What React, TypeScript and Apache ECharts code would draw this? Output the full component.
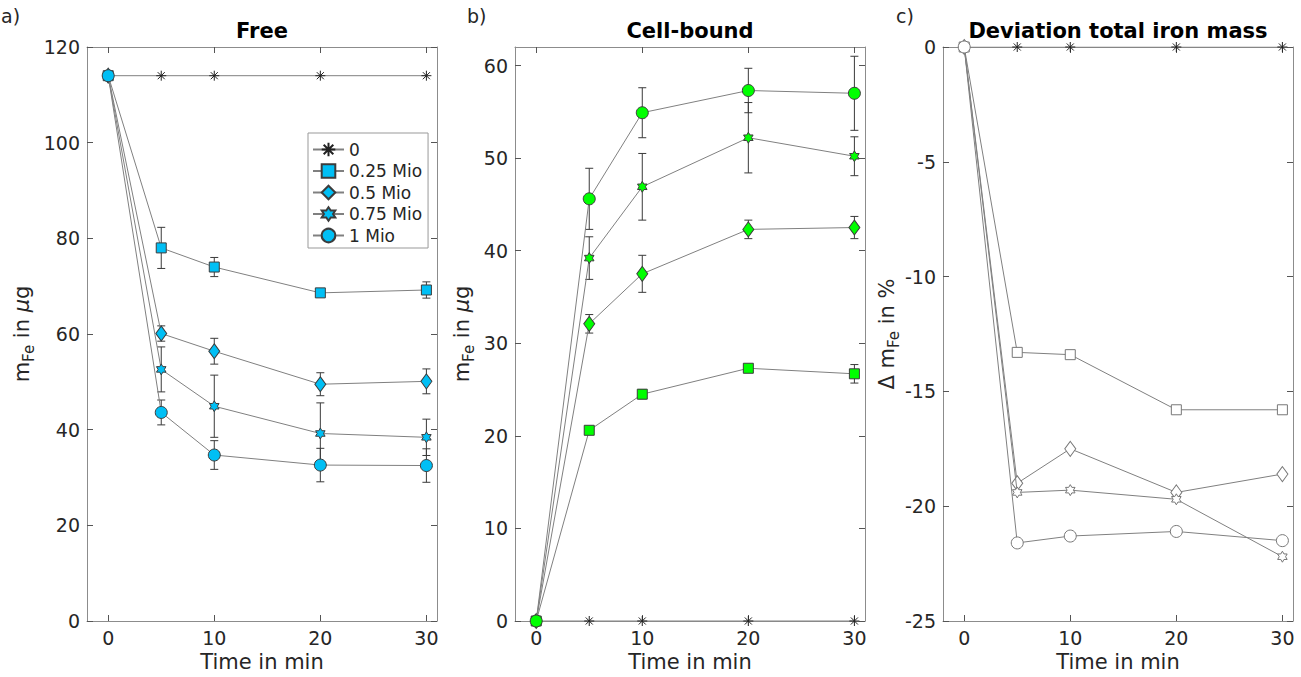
import React, { useEffect, useRef } from 'react';
import * as echarts from 'echarts';

// ---------- data ----------
const times = [0, 5, 10, 20, 30];
const seriesNames = ['0', '0.25 Mio', '0.5 Mio', '0.75 Mio', '1 Mio'];
const xTicks = [0, 10, 20, 30];
const freeYTicks = [0, 20, 40, 60, 80, 100, 120];
const cellYTicks = [0, 10, 20, 30, 40, 50, 60];
const devYTicks = [-25, -20, -15, -10, -5, 0];

// a) Free
const free0 = [114, 114, 114, 114, 114];
const free025 = [114, 78, 74, 68.6, 69.2];
const free05 = [114, 60.1, 56.4, 49.5, 50.1];
const free075 = [114, 52.6, 44.9, 39.2, 38.4];
const free1 = [114, 43.6, 34.7, 32.6, 32.5];
const free025Err = [0, 4.3, 2.0, 0.6, 1.7];
const free05Err = [0, 1.6, 2.7, 2.4, 2.6];
const free075Err = [0, 4.7, 6.5, 6.4, 3.8];
const free1Err = [0, 2.6, 3.0, 3.5, 3.5];

// b) Cell-bound
const cell0 = [0, 0, 0, 0, 0];
const cell025 = [0, 20.6, 24.5, 27.3, 26.7];
const cell05 = [0, 32.1, 37.5, 42.3, 42.5];
const cell075 = [0, 39.2, 46.9, 52.2, 50.2];
const cell1 = [0, 45.6, 54.9, 57.3, 57.0];
const cell025Err = [0, 0.3, 0.5, 0.3, 1.0];
const cell05Err = [0, 1.0, 2.0, 1.0, 1.2];
const cell075Err = [0, 2.3, 3.6, 3.8, 2.1];
const cell1Err = [0, 3.3, 2.7, 2.4, 4.0];

// c) Deviation total iron mass
const dev0 = [0, 0, 0, 0, 0];
const dev025 = [0, -13.3, -13.4, -15.8, -15.8];
const dev05 = [0, -19.0, -17.5, -19.4, -18.6];
const dev075 = [0, -19.4, -19.3, -19.7, -22.2];
const dev1 = [0, -21.6, -21.3, -21.1, -21.5];

// ---------- styles ----------
const FONT = '"DejaVu Sans", "Noto Sans", sans-serif';
const TXT = '#262626';
const AXIS = '#8c8c8c';
const TICK = '#555555';
const LINE = '#808080';
const BLUE = '#00bff5';
const GREEN = '#00ff00';
const TICK_FS = 19;
const NAME_FS = 21;

const SYM_ASTERISK = 'path://M0,-10L0,10M-10,0L10,0M-7.07,-7.07L7.07,7.07M-7.07,7.07L7.07,-7.07';
const SYM_HEX = 'path://M0,-100L28.9,-50L86.6,-50L57.7,0L86.6,50L28.9,50L0,100L-28.9,50L-86.6,50L-57.7,0L-86.6,-50L-28.9,-50Z';

const symbols: any[] = [SYM_ASTERISK, 'rect', 'diamond', SYM_HEX, 'circle'];
const symbolSizes: any[] = [10, 10, [11, 15], 11, 12];

const grids = [
  { left: 87, top: 47, width: 350, height: 574, outerBoundsMode: 'none', containLabel: false },
  { left: 515, top: 47, width: 350, height: 574, outerBoundsMode: 'none', containLabel: false },
  { left: 943, top: 47, width: 350, height: 574, outerBoundsMode: 'none', containLabel: false },
];

function lineSeries(name: string, vals: number[], panel: number, k: number, fill: string, edge: string) {
  return {
    type: 'line',
    name,
    xAxisIndex: panel * 2,
    yAxisIndex: panel * 2,
    data: times.map((t, i) => [t, vals[i]]),
    symbol: symbols[k],
    symbolSize: symbolSizes[k],
    symbolKeepAspect: true,
    showSymbol: true,
    showAllSymbol: true,
    silent: true,
    z: 3 + k,
    lineStyle: { color: LINE, width: 1 },
    itemStyle: k === 0
      ? { color: 'rgba(0,0,0,0)', borderColor: '#222222', borderWidth: 1 }
      : { color: fill, borderColor: edge, borderWidth: 1 },
    emphasis: { disabled: true },
  };
}

function errSeries(vals: number[], errs: number[], panel: number) {
  return {
    type: 'custom',
    coordinateSystem: 'cartesian2d',
    xAxisIndex: panel * 2,
    yAxisIndex: panel * 2,
    silent: true,
    z: 2,
    data: times
      .map((t, i) => [t, vals[i] - errs[i], vals[i] + errs[i]])
      .filter((_, i) => errs[i] > 0),
    encode: { x: 0, y: [1, 2] },
    renderItem: (params: any, api: any) => {
      const x = api.value(0);
      const lo = api.coord([x, api.value(1)]);
      const hi = api.coord([x, api.value(2)]);
      const hw = 4;
      const st = { stroke: '#3a3a3a', lineWidth: 1 };
      return {
        type: 'group',
        children: [
          { type: 'line', shape: { x1: lo[0], y1: lo[1], x2: hi[0], y2: hi[1] }, style: st },
          { type: 'line', shape: { x1: lo[0] - hw, y1: lo[1], x2: lo[0] + hw, y2: lo[1] }, style: st },
          { type: 'line', shape: { x1: hi[0] - hw, y1: hi[1], x2: hi[0] + hw, y2: hi[1] }, style: st },
        ],
      };
    },
  };
}

const yNameRich = {
  m: { fontSize: NAME_FS, fontFamily: FONT, color: TXT, lineHeight: 28 },
  s: { fontSize: 15, fontFamily: FONT, color: TXT, lineHeight: 15, verticalAlign: 'bottom' },
  u: { fontSize: NAME_FS, fontFamily: FONT, color: TXT, lineHeight: 28, fontStyle: 'italic' },
};

function xAxes(panel: number) {
  return [
    {
      type: 'value', gridIndex: panel, min: -2, max: 31, position: 'bottom',
      axisLine: { show: true, onZero: false, lineStyle: { color: AXIS, width: 1 } },
      axisTick: { show: true, inside: true, length: 6, customValues: xTicks, lineStyle: { color: TICK } },
      axisLabel: { show: true, customValues: xTicks, fontSize: TICK_FS, fontFamily: FONT, color: TXT, margin: 7 },
      splitLine: { show: false },
      name: 'Time in min', nameLocation: 'middle', nameGap: 29,
      nameTextStyle: { fontSize: NAME_FS, fontFamily: FONT, color: TXT },
    },
    {
      type: 'value', gridIndex: panel, min: -2, max: 31, position: 'top',
      axisLine: { show: true, onZero: false, lineStyle: { color: AXIS, width: 1 } },
      axisTick: { show: true, inside: true, length: 6, customValues: xTicks, lineStyle: { color: TICK } },
      axisLabel: { show: false },
      splitLine: { show: false },
    },
  ];
}

function yAxes(panel: number, min: number, max: number, ticks: number[], name: string, gap: number) {
  return [
    {
      type: 'value', gridIndex: panel, min, max, position: 'left',
      axisLine: { show: true, onZero: false, lineStyle: { color: AXIS, width: 1 } },
      axisTick: { show: true, inside: true, length: 6, customValues: ticks, lineStyle: { color: TICK } },
      axisLabel: { show: true, customValues: ticks, fontSize: TICK_FS, fontFamily: FONT, color: TXT, margin: 7 },
      splitLine: { show: false },
      name, nameLocation: 'middle', nameGap: gap, nameRotate: 90,
      nameTextStyle: { rich: yNameRich },
    },
    {
      type: 'value', gridIndex: panel, min, max, position: 'right',
      axisLine: { show: true, onZero: false, lineStyle: { color: AXIS, width: 1 } },
      axisTick: { show: true, inside: true, length: 6, customValues: ticks, lineStyle: { color: TICK } },
      axisLabel: { show: false },
      splitLine: { show: false },
    },
  ];
}

export default function App() {
  const ref = useRef<HTMLDivElement>(null);
  useEffect(() => {
    if (!ref.current) return;
    const chart = echarts.init(ref.current, undefined, { renderer: 'svg' });
    const massName = '{m|m}{s|Fe}{m| in }{u|μ}{m|g}';
    const devName = '{m|Δ m}{s|Fe}{m| in %}';
    const freeVals = [free0, free025, free05, free075, free1];
    const freeErrs = [null, free025Err, free05Err, free075Err, free1Err];
    const cellVals = [cell0, cell025, cell05, cell075, cell1];
    const cellErrs = [null, cell025Err, cell05Err, cell075Err, cell1Err];
    const devVals = [dev0, dev025, dev05, dev075, dev1];

    const series: any[] = [];
    freeErrs.forEach((e, k) => { if (e) series.push(errSeries(freeVals[k], e, 0)); });
    cellErrs.forEach((e, k) => { if (e) series.push(errSeries(cellVals[k], e, 1)); });
    freeVals.forEach((v, k) => series.push(lineSeries(seriesNames[k], v, 0, k, BLUE, '#3c3c3c')));
    cellVals.forEach((v, k) => series.push(lineSeries('b ' + seriesNames[k], v, 1, k, GREEN, '#3c3c3c')));
    devVals.forEach((v, k) => series.push(lineSeries('c ' + seriesNames[k], v, 2, k, '#ffffff', '#777777')));

    const option: any = {
      animation: false,
      backgroundColor: '#ffffff',
      grid: grids,
      xAxis: [...xAxes(0), ...xAxes(1), ...xAxes(2)],
      yAxis: [
        ...yAxes(0, 0, 120, freeYTicks, massName, 51),
        ...yAxes(1, 0, 62, cellYTicks, massName, 39),
        ...yAxes(2, -25, 0, devYTicks, devName, 37),
      ],
      legend: {
        data: seriesNames,
        orient: 'vertical',
        left: 308,
        top: 133,
        itemWidth: 31,
        itemHeight: 17,
        itemGap: 4.5,
        padding: [8, 6, 4, 4],
        borderColor: '#999999',
        borderWidth: 1,
        backgroundColor: '#ffffff',
        selectedMode: false,
        textStyle: { fontSize: 17, fontFamily: FONT, color: TXT },
      },
      graphic: [
        { type: 'text', left: 1, top: 6, style: { text: 'a)', font: '19px ' + FONT, fill: TXT } },
        { type: 'text', left: 467, top: 6, style: { text: 'b)', font: '19px ' + FONT, fill: TXT } },
        { type: 'text', left: 896, top: 6, style: { text: 'c)', font: '19px ' + FONT, fill: TXT } },
        { type: 'text', x: 262, y: 31, style: { text: 'Free', font: 'bold 21px ' + FONT, fill: '#000', align: 'center', verticalAlign: 'middle' } },
        { type: 'text', x: 690, y: 31, style: { text: 'Cell-bound', font: 'bold 21px ' + FONT, fill: '#000', align: 'center', verticalAlign: 'middle' } },
        { type: 'text', x: 1118, y: 31, style: { text: 'Deviation total iron mass', font: 'bold 21px ' + FONT, fill: '#000', align: 'center', verticalAlign: 'middle' } },
      ],
      series,
    };
    chart.setOption(option);
    return () => chart.dispose();
  }, []);
  return <div ref={ref} style={{ position: 'fixed', left: 0, top: 0, width: 1301, height: 677 }} />;
}
